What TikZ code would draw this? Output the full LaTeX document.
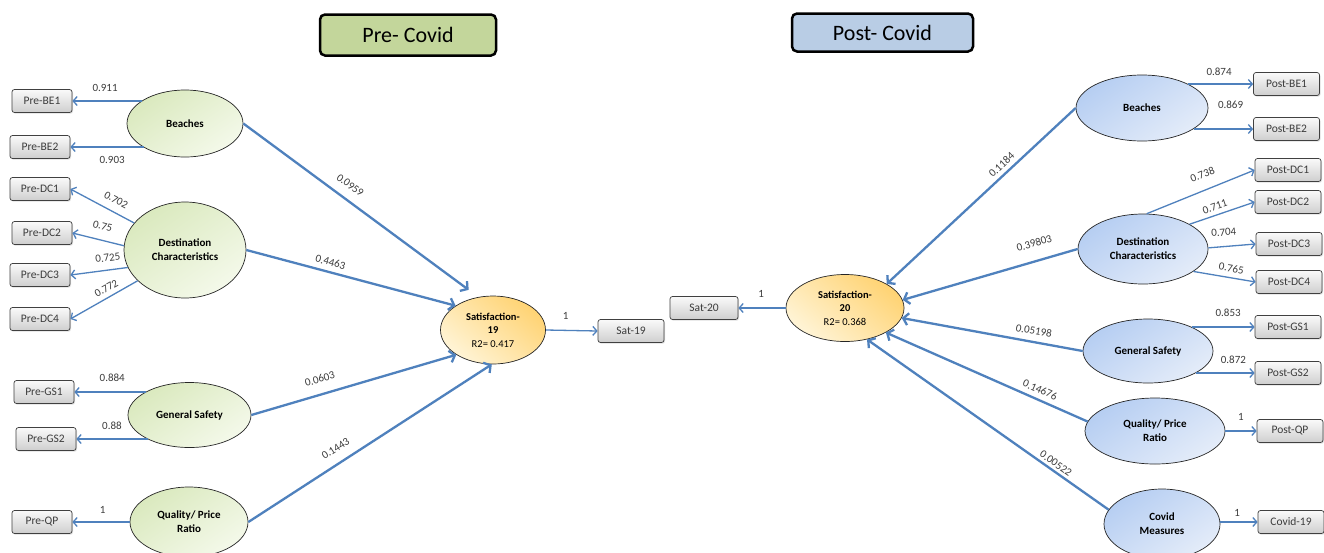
\documentclass[tikz,border=0pt]{standalone}
\usepackage{fontspec}
\setmainfont{Carlito}
\usetikzlibrary{arrows.meta,shapes.geometric,shadows}
\definecolor{lineblue}{RGB}{79,129,189}
\definecolor{greenL}{RGB}{244,249,234}
\definecolor{greenD}{RGB}{218,233,190}
\definecolor{blueL}{RGB}{228,236,249}
\definecolor{blueD}{RGB}{182,206,242}
\definecolor{satL}{RGB}{255,244,214}
\definecolor{satD}{RGB}{255,211,115}
\definecolor{pregreen}{RGB}{195,214,155}
\definecolor{postblue}{RGB}{185,205,229}
\definecolor{txtgray}{RGB}{60,60,60}
\begin{document}
\begin{tikzpicture}[x=1pt,y=-1pt,
  box/.style={draw=black!75, line width=0.7pt, rounded corners=2.5pt, top color=gray!4, bottom color=gray!38,
    minimum width=60pt, minimum height=23pt, inner sep=1pt, text=txtgray,
    font=\fontsize{11.5}{13}\selectfont,
    drop shadow={opacity=0.25, shadow xshift=1pt, shadow yshift=-1.2pt}},
  rbox/.style={box, minimum width=66pt},
  lat/.style={ellipse, draw=black!85, line width=0.7pt, inner sep=0pt, align=center,
    font=\fontsize{11}{14}\selectfont\bfseries},
  gl/.style={lat, top color=greenD, bottom color=greenL, shading angle=35},
  bl/.style={lat, top color=blueD, bottom color=blueL, shading angle=35},
  sat/.style={lat, top color=satD, bottom color=satL, shading angle=-40, font=\fontsize{10.5}{13.5}\selectfont},
  titlebox/.style={draw=black, line width=2.5pt, rounded corners=5pt, font=\fontsize{22}{26}\selectfont},
  struct/.style={draw=lineblue, line width=2.3pt, -{Straight Barb[length=5pt,width=12pt]}},
  meas/.style={draw=lineblue, line width=1.3pt, -{Straight Barb[length=4pt,width=9pt]}},
  lbl/.style={font=\fontsize{11}{12}\selectfont, text=txtgray, inner sep=1pt}
]
\useasboundingbox (0,0) rectangle (1324,552);
\clip (0,0) rectangle (1324,552);
\fill[white] (0,0) rectangle (1324,552);

% titles
\node[titlebox, fill=pregreen, minimum width=176pt, minimum height=41pt] (tpre) at (408,35) {Pre- Covid};
\node[titlebox, fill=postblue, minimum width=181pt, minimum height=38pt] (tpost) at (882.5,32.5) {Post- Covid};

% left indicators
\node[box] (prebe1) at (42,101) {Pre-BE1};
\node[box] (prebe2) at (40,147) {Pre-BE2};
\node[box] (predc1) at (40,189) {Pre-DC1};
\node[box] (predc2) at (42,233) {Pre-DC2};
\node[box] (predc3) at (40,275) {Pre-DC3};
\node[box] (predc4) at (40,319) {Pre-DC4};
\node[box] (pregs1) at (44,392) {Pre-GS1};
\node[box] (pregs2) at (46,439) {Pre-GS2};
\node[box] (preqp) at (42,522) {Pre-QP};

% left constructs
\node[gl, minimum width=116pt, minimum height=67pt] (lbe) at (185,123.5) {Beaches};
\node[gl, minimum width=122pt, minimum height=96pt] (ldc) at (185,250) {Destination\\Characteristics};
\node[gl, minimum width=123pt, minimum height=65pt] (lgs) at (189.5,415) {General Safety};
\node[gl, minimum width=118pt, minimum height=70pt] (lqp) at (189,522) {Quality/ Price\\Ratio};

% satisfaction
\node[sat, minimum width=105pt, minimum height=68pt] (s19) at (493,330) {\textbf{Satisfaction-}\\\textbf{19}\\R2= 0.417};
\node[box, minimum width=66pt] (sat19) at (631,331) {Sat-19};
\node[box, minimum width=68pt] (sat20) at (704,308) {Sat-20};
\node[sat, minimum width=118pt, minimum height=67pt] (s20) at (845,308) {\textbf{Satisfaction-}\\\textbf{20}\\R2= 0.368};

% right constructs
\node[bl, minimum width=132pt, minimum height=66pt] (rbe) at (1142,108) {Beaches};
\node[bl, minimum width=130pt, minimum height=70pt] (rdc) at (1143,249) {Destination\\Characteristics};
\node[bl, minimum width=130pt, minimum height=64pt] (rgs) at (1148,351) {General Safety};
\node[bl, minimum width=140pt, minimum height=66pt] (rqp) at (1155,431) {Quality/ Price\\Ratio};
\node[bl, minimum width=116pt, minimum height=70pt] (rcm) at (1162,524) {Covid\\Measures};

% right indicators
\node[rbox] (postbe1) at (1286.5,84) {Post-BE1};
\node[rbox] (postbe2) at (1286.5,129) {Post-BE2};
\node[rbox] (postdc1) at (1288,170) {Post-DC1};
\node[rbox] (postdc2) at (1288,202) {Post-DC2};
\node[rbox] (postdc3) at (1289,244) {Post-DC3};
\node[rbox] (postdc4) at (1289,282) {Post-DC4};
\node[rbox] (postgs1) at (1288,327) {Post-GS1};
\node[rbox] (postgs2) at (1288,373) {Post-GS2};
\node[rbox] (postqp) at (1290,431) {Post-QP};
\node[rbox] (covid19) at (1291,522) {Covid-19};

% left measurement
\draw[meas] (lbe.152 |- prebe1.east) -- node[lbl, pos=0.53, above=7.5pt] (m1) {0.911} (prebe1.east);
\draw[meas] (lbe.210 |- prebe2.east) -- node[lbl, pos=0.43, below=7.5pt] (m2) {0.903} (prebe2.east);
\draw[meas] (ldc.152) -- node[lbl, sloped, pos=0.37, above=6.5pt] (m3) {0.702} (predc1.east);
\draw[meas] (ldc.176) -- node[lbl, sloped, pos=0.475, above=8.5pt] (m4) {0.75} (predc2.east);
\draw[meas] (ldc.197) -- node[lbl, sloped, pos=0.32, above=7pt] (m5) {0.725} (predc3.east);
\draw[meas] (ldc.213) -- node[lbl, sloped, pos=0.4, above=3.5pt] (m6) {0.772} (predc4.east);
\draw[meas] (lgs.152 |- pregs1.east) -- node[lbl, pos=0.47, above=8.5pt] (m7) {0.884} (pregs1.east);
\draw[meas] (lgs.210 |- pregs2.east) -- node[lbl, pos=0.5, above=7.5pt] (m8) {0.88} (pregs2.east);
\draw[meas] (lqp.west |- preqp.east) -- node[lbl, pos=0.47, above=6.5pt] (m9) {1} (preqp.east);

% left structural
\draw[struct, shorten >=12pt] (lbe.east) -- node[lbl, sloped, pos=0.42, above=8pt] (k1) {0.0959} (s19.114);
\draw[struct] (ldc.east) -- node[lbl, sloped, pos=0.39, above=4pt] (k2) {0.4463} (s19.147);
\draw[struct] (lgs.east) -- node[lbl, sloped, pos=0.355, above=9.4pt] (k3) {0.0603} (s19.214);
\draw[struct] (lqp.east) -- node[lbl, sloped, pos=0.39, above=8.4pt] (k4) {0.1443} (s19.268);

% satisfaction indicators
\draw[meas] (s19.east) -- node[lbl, pos=0.38, above=9.5pt] (m10) {1} (sat19.west);
\draw[meas] (s20.west) -- node[lbl, pos=0.52, above=8.5pt] (m11) {1} (sat20.east);

% right structural
\draw[struct] (rbe.west) -- node[lbl, sloped, pos=0.36, above=3pt] (k5) {0.1184} (s20.30);
\draw[struct] (rdc.west) -- node[lbl, sloped, pos=0.22, above=12pt] (k6) {0.39803} (s20.8);
\draw[struct] (rgs.west) -- node[lbl, sloped, pos=0.28, above=5pt] (k7) {0.05198} (s20.350);
\draw[struct] (rqp.172) -- node[lbl, sloped, pos=0.255, above=4pt] (k8) {0.14676} (s20.329);
\draw[struct] (rcm.165) -- node[lbl, sloped, pos=0.236, above=1.6pt] (k9) {0.00522} (s20.305);

% right measurement
\draw[meas] (rbe.28 |- postbe1.west) -- node[lbl, pos=0.48, above=6.5pt] (m12) {0.874} (postbe1.west);
\draw[meas] (rbe.338 |- postbe2.west) -- node[lbl, pos=0.62, above=18.5pt] (m13) {0.869} (postbe2.west);
\draw[meas] (rdc.84) -- node[lbl, sloped, pos=0.57, above=10pt] (m14) {0.738} (postdc1.west);
\draw[meas] (rdc.28) -- node[lbl, sloped, pos=0.43, above=3pt] (m15) {0.711} (postdc2.west);
\draw[meas] (rdc.1) -- node[lbl, sloped, pos=0.35, above=9pt] (m16) {0.704} (postdc3.west);
\draw[meas] (rdc.336) -- node[lbl, sloped, pos=0.585, above=4pt] (m17) {0.765} (postdc4.west);
\draw[meas] (rgs.29 |- postgs1.west) -- node[lbl, pos=0.58, above=8.5pt] (m18) {0.853} (postgs1.west);
\draw[meas] (rgs.335 |- postgs2.west) -- node[lbl, pos=0.64, above=7.5pt] (m19) {0.872} (postgs2.west);
\draw[meas] (rqp.east |- postqp.west) -- node[lbl, pos=0.5, above=8.5pt] (m20) {1} (postqp.west);
\draw[meas] (rcm.east |- covid19.west) -- node[lbl, pos=0.45, above=3.5pt] (m21) {1} (covid19.west);
\end{tikzpicture}
\end{document}
